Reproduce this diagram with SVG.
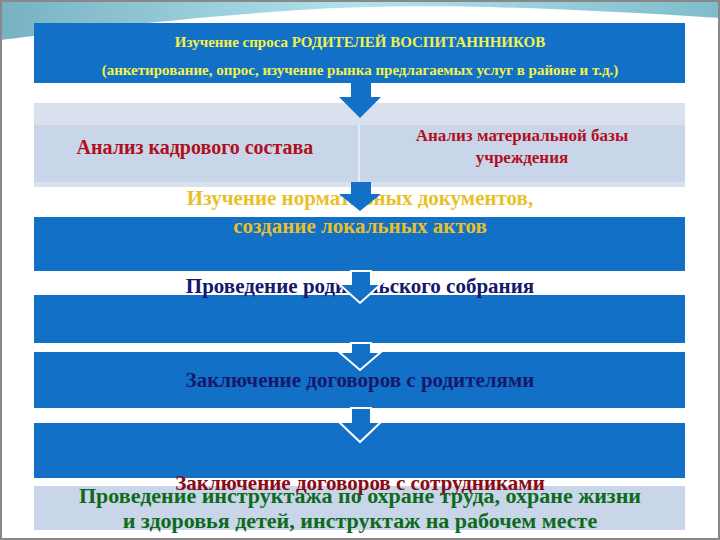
<svg xmlns="http://www.w3.org/2000/svg" width="720" height="540" viewBox="0 0 720 540">
<defs>
<linearGradient id="sw" x1="0" y1="0" x2="1" y2="0"><stop offset="0" stop-color="#1d7f9a"/><stop offset="0.5" stop-color="#7fd0e0"/><stop offset="1" stop-color="#2a8fa8"/></linearGradient>
<style>
.blue{fill:#1270c6}
.light{fill:#c9d5e8}
.lighter{fill:#d9e1ef}
.t{font-family:'Liberation Serif','Times New Roman',serif;font-weight:bold;text-anchor:middle}
.arr{fill:#1270c6;stroke:#fff;stroke-width:2;stroke-linejoin:miter}
</style>
</defs>
<rect width="720" height="540" fill="#fff"/>
<path d="M0,0 H720 V18 C560,8 420,2 300,10 C180,18 80,30 0,40 Z" fill="url(#sw)" opacity="0.6"/>
<rect x="1" y="1" width="718" height="538" fill="none" stroke="#888" stroke-width="2"/>
<g id="n1"><rect class="blue" x="34" y="23" width="651" height="60"/>
<text class="t" x="360" y="47" font-size="15" fill="#f2f24a" font-family="Liberation Serif, serif">Изучение спроса РОДИТЕЛЕЙ ВОСПИТАНННИКОВ</text>
<text class="t" x="360" y="75" font-size="15" fill="#f2f24a" font-family="Liberation Serif, serif">(анкетирование, опрос, изучение рынка предлагаемых услуг в районе и т.д.)</text></g>
<g id="n2"><rect class="lighter" x="34" y="103" width="651" height="84"/><rect class="light" x="34" y="125" width="651" height="57"/>
<line x1="359" y1="125" x2="359" y2="182" stroke="#e6ebf4" stroke-width="2"/>
<text class="t" x="195" y="154" font-size="20" fill="#b0101e" font-family="Liberation Serif, serif">Анализ кадрового  состава</text>
<text class="t" x="522" y="141" font-size="17" fill="#b0101e" font-family="Liberation Serif, serif">Анализ материальной базы</text>
<text class="t" x="522" y="163" font-size="17" fill="#b0101e" font-family="Liberation Serif, serif">учреждения</text></g>
<g id="n3"><rect class="blue" x="34" y="217" width="651" height="54"/>
<text class="t" x="360" y="205" font-size="21" fill="#e8c02a" font-family="Liberation Serif, serif">Изучение нормативных документов,</text>
<text class="t" x="360" y="233" font-size="21" fill="#e8c02a" font-family="Liberation Serif, serif">создание локальных актов</text></g>
<g id="n4"><rect class="blue" x="34" y="295" width="651" height="48"/>
<text class="t" x="360" y="293" font-size="21" fill="#16186e" font-family="Liberation Serif, serif">Проведение родительского собрания</text></g>
<g id="n5"><rect class="blue" x="34" y="352" width="651" height="56"/>
<text class="t" x="360" y="387" font-size="21" fill="#16186e" font-family="Liberation Serif, serif">Заключение договоров с родителями</text></g>
<g id="n6"><rect class="blue" x="34" y="423" width="651" height="55"/>
<rect class="light" x="34" y="486" width="651" height="44"/>
<text class="t" x="360" y="490" font-size="21" fill="#8a0a14" font-family="Liberation Serif, serif">Заключение договоров с сотрудниками</text>
<text class="t" x="360" y="503" font-size="22" fill="#0e6a1c" font-family="Liberation Serif, serif">Проведение инструктажа по охране труда, охране жизни</text>
<text class="t" x="360" y="528" font-size="22" fill="#0e6a1c" font-family="Liberation Serif, serif">и здоровья детей,  инструктаж на рабочем месте</text></g>
<g id="connectors">
<polygon points="351,83 371,83 371,97 381,97 360,118 339,97 351,97" fill="#1270c6"/>
<polygon points="351,182 371,182 371,194 381,194 360,211 339,194 351,194" fill="#1270c6"/>
<polygon class="arr" points="351,271 371,271 371,284 381,284 360,303 339,284 351,284"/>
<polygon class="arr" points="351,343 371,343 371,352 381,352 360,370 339,352 351,352"/>
<polygon class="arr" points="351,408 371,408 371,422 381,422 360,442 339,422 351,422"/>
</g>
</svg>
